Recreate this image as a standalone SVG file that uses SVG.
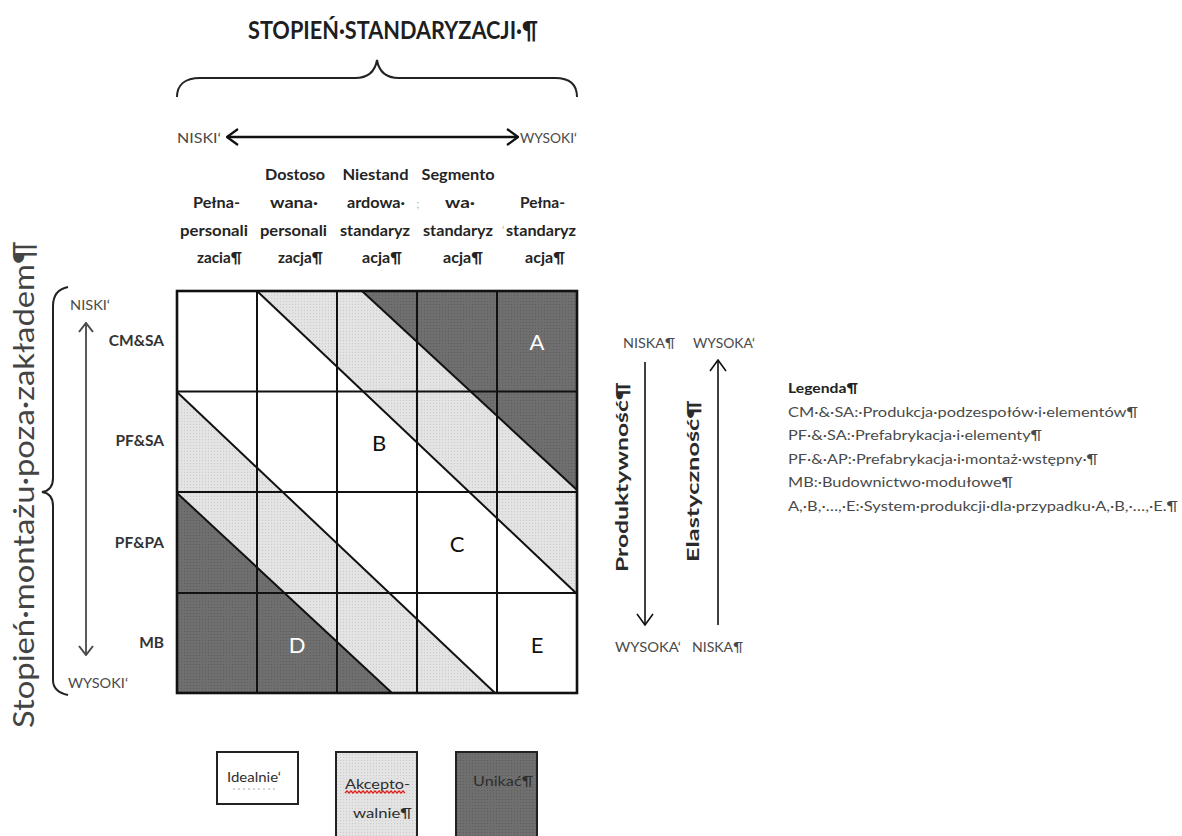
<svg xmlns="http://www.w3.org/2000/svg" width="1182" height="836" viewBox="0 0 1182 836">
  <style>
    text { font-family: Lato, "Liberation Sans", sans-serif; }
    .title { font-size: 24px; font-weight: bold; fill: #1e1e1e; text-anchor: middle; }
    .hd { font-size: 15.5px; font-weight: bold; fill: #242424; text-anchor: middle; }
    .tick { font-size: 11px; fill: #b0b0b0; text-anchor: middle; }
    .lvl { font-size: 13.5px; fill: #4a4a4a; }
    .row { font-size: 15.5px; font-weight: bold; fill: #333; text-anchor: end; }
    .axis { font-size: 28px; fill: #444; }
    .axisR { font-size: 17px; font-weight: bold; fill: #2a2a2a; }
    .big { font-size: 22px; text-anchor: middle; }
    .lgd { font-size: 14px; fill: #4a4a4a; }
    .lgdH { font-size: 14px; font-weight: bold; fill: #222; }
    .key { font-size: 14px; fill: #2e2e2e; }
    .grid { stroke: #111; stroke-width: 2; fill: none; }
    .diag { stroke: #111; stroke-width: 2; }
    .brace { fill: none; stroke: #222; stroke-width: 2; }
  </style>
  <defs>
    <pattern id="dotLight" width="3" height="3" patternUnits="userSpaceOnUse">
      <rect width="3" height="3" fill="#e3e3e3"/>
      <rect x="1" y="1" width="1" height="1" fill="#cbcbcb"/>
    </pattern>
    <pattern id="dotDark" width="3" height="3" patternUnits="userSpaceOnUse">
      <rect width="3" height="3" fill="#6f6f6f"/>
      <rect x="1" y="1" width="1" height="1" fill="#5d5d5d"/>
    </pattern>
    <marker id="headBlack" viewBox="0 0 13 18" refX="12" refY="9" markerWidth="13" markerHeight="18" markerUnits="userSpaceOnUse" orient="auto-start-reverse">
      <path d="M1,1 L12,9 L1,17" fill="none" stroke="#111" stroke-width="2.2"/>
    </marker>
    <marker id="headThin" viewBox="0 0 13 18" refX="12" refY="9" markerWidth="13" markerHeight="18" markerUnits="userSpaceOnUse" orient="auto-start-reverse">
      <path d="M1,1 L12,9 L1,17" fill="none" stroke="#111" stroke-width="1.6"/>
    </marker>
    <marker id="headGray" viewBox="0 0 11 16" refX="10" refY="8" markerWidth="11" markerHeight="16" markerUnits="userSpaceOnUse" orient="auto-start-reverse">
      <path d="M1,1 L10,8 L1,15" fill="none" stroke="#4a4a4a" stroke-width="2"/>
    </marker>
  </defs>

  <rect width="1182" height="836" fill="#fff"/>

  <!-- heading and the standardisation axis -->
  <g id="title">
    <text class="title" x="393" y="39" textLength="290" lengthAdjust="spacingAndGlyphs">STOPIEŃ·STANDARYZACJI·¶</text>
  </g>
  <g id="top-brace">
    <path class="brace" d="M177,97 C177,85 185,78 200,78 L355,78 C368,78 375,72 377,60 C379,72 386,78 399,78 L555,78 C570,78 577,85 577,97"/>
  </g>
  <g id="top-axis-labels">
    <text class="lvl" x="177" y="143" textLength="44" lengthAdjust="spacingAndGlyphs">NISKI‘</text>
    <text class="lvl" x="520" y="143" textLength="57" lengthAdjust="spacingAndGlyphs">WYSOKI‘</text>
  </g>

  <!-- column headers -->
  <g id="col-1">
    <text class="hd" x="216.5" y="208" textLength="47" lengthAdjust="spacingAndGlyphs">Pełna-</text>
    <text class="hd" x="214" y="236" textLength="68" lengthAdjust="spacingAndGlyphs">personali</text>
    <text class="hd" x="219.5" y="263" textLength="45" lengthAdjust="spacingAndGlyphs">zacia¶</text>
  </g>
  <g id="col-2">
    <text class="hd" x="295" y="180" textLength="60" lengthAdjust="spacingAndGlyphs">Dostoso</text>
    <text class="hd" x="294" y="208" textLength="48" lengthAdjust="spacingAndGlyphs">wana·</text>
    <text class="hd" x="293.5" y="236" textLength="67" lengthAdjust="spacingAndGlyphs">personali</text>
    <text class="hd" x="300.5" y="263" textLength="45" lengthAdjust="spacingAndGlyphs">zacja¶</text>
  </g>
  <g id="col-3">
    <text class="hd" x="375.5" y="180" textLength="66" lengthAdjust="spacingAndGlyphs">Niestand</text>
    <text class="hd" x="376" y="208" textLength="58" lengthAdjust="spacingAndGlyphs">ardowa·</text>
    <text class="hd" x="375" y="236" textLength="70" lengthAdjust="spacingAndGlyphs">standaryz</text>
    <text class="hd" x="382" y="263" textLength="40" lengthAdjust="spacingAndGlyphs">acja¶</text>
    <text class="tick" x="418" y="208">;</text>
  </g>
  <g id="col-4">
    <text class="hd" x="458" y="180" textLength="73" lengthAdjust="spacingAndGlyphs">Segmento</text>
    <text class="hd" x="460" y="208" textLength="30" lengthAdjust="spacingAndGlyphs">wa·</text>
    <text class="hd" x="458" y="236" textLength="70" lengthAdjust="spacingAndGlyphs">standaryz</text>
    <text class="hd" x="463" y="263" textLength="40" lengthAdjust="spacingAndGlyphs">acja¶</text>
  </g>
  <g id="col-5">
    <text class="hd" x="542.5" y="208" textLength="45" lengthAdjust="spacingAndGlyphs">Pełna-</text>
    <text class="tick" x="503" y="234">'</text>
    <text class="hd" x="541" y="236" textLength="70" lengthAdjust="spacingAndGlyphs">standaryz</text>
    <text class="hd" x="545" y="263" textLength="40" lengthAdjust="spacingAndGlyphs">acja¶</text>
  </g>

  <!-- off-site assembly axis -->
  <g id="left-axis">
    <text class="axis" transform="translate(34,728) rotate(-90)" textLength="487" lengthAdjust="spacingAndGlyphs">Stopień·montażu·poza·zakładem¶</text>
    <path class="brace" d="M68,287 C58,289 53,296 53,306 L53,478 C53,486 49,491 42,492 C49,493 53,498 53,506 L53,680 C53,688 58,693 68,695"/>
    <text class="lvl" x="70" y="310" font-size="12.5" textLength="40" lengthAdjust="spacingAndGlyphs">NISKI‘</text>
    <text class="lvl" x="68" y="688" font-size="12.5" textLength="60" lengthAdjust="spacingAndGlyphs">WYSOKI‘</text>
  </g>
  <g id="row-labels">
    <text class="row" x="164" y="346">CM&amp;SA</text>
    <text class="row" x="164" y="446">PF&amp;SA</text>
    <text class="row" x="164" y="548">PF&amp;PA</text>
    <text class="row" x="164" y="648">MB</text>
  </g>

  <!-- 4 x 5 matrix with diagonal zones -->
  <g id="matrix">
    <rect x="177" y="291" width="400" height="402" fill="#fff"/>
    <polygon points="257,291 577,291 577,594" fill="url(#dotLight)"/>
    <polygon points="362,291 577,291 577,490" fill="url(#dotDark)"/>
    <polygon points="177,392 495,693 177,693" fill="url(#dotLight)"/>
    <polygon points="177,493 392,693 177,693" fill="url(#dotDark)"/>
    <g class="grid">
      <line x1="257" y1="291" x2="257" y2="693"/>
      <line x1="337" y1="291" x2="337" y2="693"/>
      <line x1="417" y1="291" x2="417" y2="693"/>
      <line x1="497" y1="291" x2="497" y2="693"/>
      <line x1="177" y1="391.5" x2="577" y2="391.5"/>
      <line x1="177" y1="492" x2="577" y2="492"/>
      <line x1="177" y1="593" x2="577" y2="593"/>
    </g>
    <g class="diag">
      <line x1="257" y1="291" x2="577" y2="594"/>
      <line x1="362" y1="291" x2="577" y2="490"/>
      <line x1="177" y1="392" x2="495" y2="693"/>
      <line x1="177" y1="493" x2="392" y2="693"/>
    </g>
    <rect x="177" y="291" width="400" height="402" fill="none" stroke="#111" stroke-width="2.6"/>
    <text class="big" x="537" y="350" fill="#fff">A</text>
    <text class="big" x="379" y="451" fill="#111">B</text>
    <text class="big" x="457" y="552" fill="#111">C</text>
    <text class="big" x="297" y="653" fill="#fff">D</text>
    <text class="big" x="537" y="653" fill="#111">E</text>
  </g>

  <!-- productivity / flexibility scales -->
  <g id="right-scales">
    <text class="lvl" x="623" y="348" font-size="14" textLength="52" lengthAdjust="spacingAndGlyphs">NISKA¶</text>
    <text class="lvl" x="693" y="348" font-size="14" textLength="62" lengthAdjust="spacingAndGlyphs">WYSOKA‘</text>
    <text class="lvl" x="615" y="652" font-size="14" textLength="66" lengthAdjust="spacingAndGlyphs">WYSOKA‘</text>
    <text class="lvl" x="692" y="652" font-size="14" textLength="51" lengthAdjust="spacingAndGlyphs">NISKA¶</text>
    <text class="axisR" transform="translate(628,572) rotate(-90)" font-size="18" font-weight="600" textLength="190" lengthAdjust="spacingAndGlyphs">Produktywność¶</text>
    <text class="axisR" transform="translate(699,562) rotate(-90)" font-size="16" textLength="162" lengthAdjust="spacingAndGlyphs">Elastyczność¶</text>
  </g>

  <!-- arrows -->
  <g id="connectors">
    <line x1="227" y1="137" x2="518" y2="137" stroke="#111" stroke-width="2.5" marker-start="url(#headBlack)" marker-end="url(#headBlack)"/>
    <line x1="86" y1="323" x2="86" y2="655" stroke="#5a5a5a" stroke-width="2" marker-start="url(#headGray)" marker-end="url(#headGray)"/>
    <line x1="645" y1="362" x2="645" y2="625" stroke="#111" stroke-width="1.6" marker-end="url(#headThin)"/>
    <line x1="718" y1="625" x2="718" y2="360" stroke="#111" stroke-width="1.6" marker-end="url(#headThin)"/>
  </g>

  <!-- abbreviations -->
  <g id="legend">
    <text class="lgdH" x="788" y="393" textLength="70" lengthAdjust="spacingAndGlyphs">Legenda¶</text>
    <text class="lgd" x="788" y="416.5" textLength="350" lengthAdjust="spacingAndGlyphs">CM·&amp;·SA:·Produkcja·podzespołów·i·elementów¶</text>
    <text class="lgd" x="788" y="440" textLength="254" lengthAdjust="spacingAndGlyphs">PF·&amp;·SA:·Prefabrykacja·i·elementy¶</text>
    <text class="lgd" x="788" y="463.5" textLength="310" lengthAdjust="spacingAndGlyphs">PF·&amp;·AP:·Prefabrykacja·i·montaż·wstępny·¶</text>
    <text class="lgd" x="788" y="487" textLength="225" lengthAdjust="spacingAndGlyphs">MB:·Budownictwo·modułowe¶</text>
    <text class="lgd" x="788" y="510.5" textLength="390" lengthAdjust="spacingAndGlyphs">A,·B,·…,·E:·System·produkcji·dla·przypadku·A,·B,·…,·E.¶</text>
  </g>

  <!-- shading key -->
  <g id="key-ideal">
    <rect x="217" y="752" width="81" height="52" fill="#fff" stroke="#222" stroke-width="2"/>
    <text class="key" x="227" y="782" textLength="54" lengthAdjust="spacingAndGlyphs">Idealnie‘</text>
    <line x1="233" y1="789" x2="277" y2="789" stroke="#aaa" stroke-width="1" stroke-dasharray="2 3"/>
  </g>
  <g id="key-acceptable">
    <rect x="336" y="752" width="81" height="100" fill="url(#dotLight)" stroke="#222" stroke-width="2"/>
    <text class="key" x="345" y="789" textLength="65" lengthAdjust="spacingAndGlyphs">Akcepto-</text>
    <path d="M345,793 l2,-2 l2,2 l2,-2 l2,2 l2,-2 l2,2 l2,-2 l2,2 l2,-2 l2,2 l2,-2 l2,2 l2,-2 l2,2 l2,-2 l2,2 l2,-2 l2,2 l2,-2 l2,2 l2,-2 l2,2 l2,-2 l2,2 l2,-2 l2,2 l2,-2 l2,2 l2,-2 l2,2" fill="none" stroke="#e0201a" stroke-width="1.3"/>
    <text class="key" x="353" y="818" textLength="59" lengthAdjust="spacingAndGlyphs">walnie¶</text>
  </g>
  <g id="key-avoid">
    <rect x="456" y="752" width="81" height="100" fill="url(#dotDark)" stroke="#222" stroke-width="2"/>
    <text class="key" x="473" y="786" fill="#151515" textLength="60" lengthAdjust="spacingAndGlyphs">Unikać¶</text>
  </g>
</svg>
